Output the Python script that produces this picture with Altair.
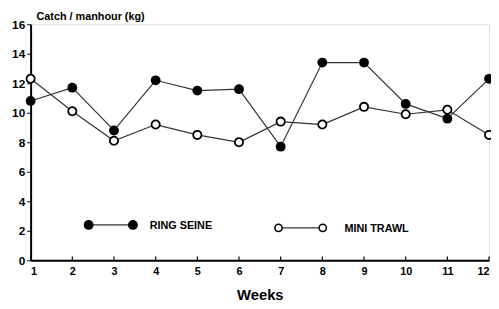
import altair as alt
import pandas as pd

weeks = list(range(1, 13))
ring_seine = [10.8, 11.7, 8.8, 12.2, 11.5, 11.6, 7.7, 13.4, 13.4, 10.6, 9.6, 12.3]
mini_trawl = [12.3, 10.1, 8.1, 9.2, 8.5, 8.0, 9.4, 9.2, 10.4, 9.9, 10.2, 8.5]
y_ticks = [0, 2, 4, 6, 8, 10, 12, 14, 16]
series_names = ["RING SEINE", "MINI TRAWL"]

df = pd.DataFrame({
    "week": weeks * 2,
    "catch": ring_seine + mini_trawl,
    "gear": [series_names[0]] * 12 + [series_names[1]] * 12,
})

FONT = "Liberation Sans"
W, H = 466, 240
xscale = alt.Scale(domain=[1, 12], nice=False)

x = alt.X("week:Q", scale=xscale,
          axis=alt.Axis(values=weeks, title="Weeks", tickSize=0, labelPadding=5,
                        labelFont=FONT, labelFontWeight="bold", labelFontSize=11,
                        titleFont=FONT, titleFontSize=15, titleFontWeight="bold",
                        titlePadding=12, domainColor="black", domainWidth=2, grid=False))
y = alt.Y("catch:Q", scale=alt.Scale(domain=[0, 16], nice=False),
          axis=alt.Axis(values=y_ticks, title=None, tickSize=4, tickColor="black",
                        labelFont=FONT, labelFontWeight="bold", labelFontSize=12,
                        labelPadding=2, domainColor="black", domainWidth=2, grid=False))

base = alt.Chart(df)
lines = base.mark_line(color="#333", strokeWidth=1.2).encode(x=x, y=y, detail="gear:N")
pts_fill = base.transform_filter(alt.datum.gear == series_names[0]).mark_point(
    shape="circle", filled=True, size=100, color="black", opacity=1).encode(x=x, y=y)
pts_open = base.transform_filter(alt.datum.gear == series_names[1]).mark_point(
    shape="circle", filled=True, size=70, fill="white", stroke="black", strokeWidth=1.8, opacity=1).encode(x=x, y=y)

xticks = alt.Chart(pd.DataFrame({"week": weeks})).mark_rule(color="black", strokeWidth=1.2).encode(
    x=x, y=alt.value(H - 4), y2=alt.value(H))

leg = pd.DataFrame({"label": series_names})
one = leg.head(1)
two = leg.tail(1)

def dot(src, px, py, filled):
    if filled:
        m = alt.Chart(src).mark_point(shape="circle", filled=True, size=100, color="black", opacity=1)
    else:
        m = alt.Chart(src).mark_point(shape="circle", filled=True, size=55, fill="white",
                                      stroke="black", strokeWidth=1.6, opacity=1)
    return m.encode(x=alt.value(px), y=alt.value(py))

RSY, MTY = 204, 207
leg_rs_line = alt.Chart(one).mark_rule(color="#333", strokeWidth=1.2).encode(
    x=alt.value(59), x2=alt.value(104), y=alt.value(RSY))
leg_rs_txt = alt.Chart(one).mark_text(align="left", font=FONT, fontSize=11,
    fontWeight="bold").encode(x=alt.value(121), y=alt.value(RSY + 1), text="label:N")

leg_mt_line = alt.Chart(two).mark_rule(color="#333", strokeWidth=1.2).encode(
    x=alt.value(252), x2=alt.value(297), y=alt.value(MTY))
leg_mt_txt = alt.Chart(two).mark_text(align="left", font=FONT, fontSize=11,
    fontWeight="bold").encode(x=alt.value(319), y=alt.value(MTY + 1), text="label:N")

ytitle = alt.Chart(pd.DataFrame({"t": ["Catch / manhour  (kg)"]})).mark_text(
    align="left", baseline="bottom", font=FONT, fontSize=11, fontWeight="bold").encode(
    x=alt.value(6), y=alt.value(-2), text="t:N")

chart = alt.layer(
    lines, pts_fill, pts_open, xticks,
    leg_rs_line, dot(one, 59, RSY, True), dot(one, 104, RSY, True), leg_rs_txt,
    leg_mt_line, dot(two, 252, MTY, False), dot(two, 297, MTY, False), leg_mt_txt,
    ytitle
).properties(
    width=W, height=H,
    autosize=alt.AutoSizeParams(type="none"),
    padding={"left": 23, "top": 14, "right": 2, "bottom": 47},
).configure_view(stroke=None).configure(background="white")

chart.save("out.html", embed_options={"renderer": "svg", "actions": False})
